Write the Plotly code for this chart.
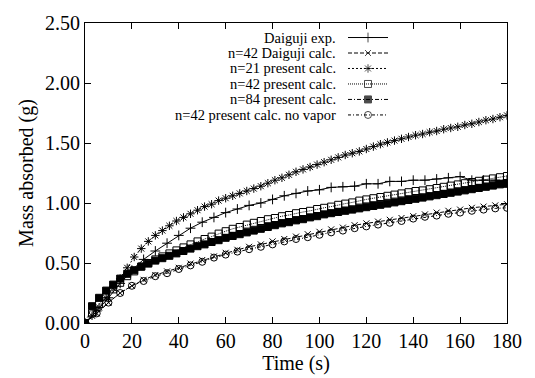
import plotly.graph_objects as go

# ---------------- data ----------------
t5 = list(range(0, 181, 5))
t3 = list(range(0, 181, 3))

daiguji_exp = [0, 0.10, 0.21, 0.33, 0.44, 0.53, 0.60, 0.665, 0.73, 0.79, 0.84, 0.88,
               0.92, 0.95, 0.98, 1.00, 1.03, 1.06, 1.08, 1.10, 1.11, 1.13, 1.135, 1.14,
               1.16, 1.16, 1.18, 1.18, 1.19, 1.19, 1.20, 1.21, 1.22, 1.19, 1.19, 1.19, 1.19]

daiguji_calc = [0, 0.08, 0.17, 0.25, 0.31, 0.36, 0.40, 0.43, 0.46, 0.495, 0.525, 0.555,
                0.585, 0.61, 0.635, 0.655, 0.68, 0.70, 0.72, 0.74, 0.76, 0.78, 0.795, 0.815,
                0.83, 0.845, 0.86, 0.875, 0.89, 0.905, 0.92, 0.935, 0.945, 0.96, 0.97, 0.98, 0.99]

no_vapor = [0, 0.08, 0.17, 0.25, 0.31, 0.35, 0.39, 0.415, 0.45, 0.48, 0.51, 0.545,
            0.57, 0.595, 0.615, 0.635, 0.655, 0.68, 0.70, 0.715, 0.735, 0.755, 0.77, 0.79,
            0.805, 0.82, 0.835, 0.85, 0.87, 0.885, 0.895, 0.91, 0.92, 0.935, 0.945, 0.955, 0.96]

n21 = [0, 0.06, 0.13, 0.21, 0.29, 0.37, 0.46, 0.55, 0.62, 0.68, 0.73, 0.77, 0.81, 0.85,
       0.88, 0.91, 0.94, 0.97, 0.99, 1.02, 1.04, 1.06, 1.08, 1.10, 1.12, 1.14, 1.165, 1.19,
       1.21, 1.235, 1.26, 1.28, 1.30, 1.32, 1.34, 1.36, 1.38, 1.40, 1.415, 1.43, 1.45, 1.47,
       1.49, 1.505, 1.52, 1.535, 1.55, 1.565, 1.575, 1.59, 1.60, 1.615, 1.625, 1.635, 1.65,
       1.66, 1.675, 1.69, 1.70, 1.715, 1.73]

n42 = [0, 0.08, 0.155, 0.22, 0.28, 0.335, 0.39, 0.43, 0.47, 0.50, 0.53, 0.555, 0.58, 0.605,
       0.63, 0.655, 0.68, 0.70, 0.72, 0.745, 0.765, 0.785, 0.80, 0.82, 0.835, 0.85, 0.865,
       0.875, 0.89, 0.90, 0.915, 0.925, 0.935, 0.95, 0.96, 0.97, 0.985, 0.995, 1.005, 1.02,
       1.03, 1.04, 1.05, 1.06, 1.07, 1.08, 1.09, 1.10, 1.105, 1.115, 1.125, 1.135, 1.145,
       1.155, 1.165, 1.175, 1.185, 1.195, 1.205, 1.215, 1.225]

n84 = [0, 0.14, 0.21, 0.27, 0.32, 0.37, 0.41, 0.44, 0.47, 0.495, 0.52, 0.54, 0.56, 0.58,
       0.60, 0.62, 0.64, 0.655, 0.675, 0.69, 0.71, 0.725, 0.74, 0.755, 0.77, 0.785, 0.80,
       0.815, 0.83, 0.84, 0.855, 0.865, 0.88, 0.89, 0.905, 0.915, 0.925, 0.935, 0.945, 0.955,
       0.965, 0.975, 0.985, 0.995, 1.005, 1.015, 1.025, 1.035, 1.045, 1.055, 1.065, 1.075,
       1.085, 1.095, 1.105, 1.115, 1.125, 1.135, 1.145, 1.155, 1.16]

labels = ["Daiguji exp.", "n=42 Daiguji calc.", "n=21 present calc.",
          "n=42 present calc.", "n=84 present calc.", "n=42 present calc. no vapor"]

x_ticks = list(range(0, 181, 20))
y_ticks = [0, 0.5, 1.0, 1.5, 2.0, 2.5]
y_ticktext = ["0.00", "0.50", "1.00", "1.50", "2.00", "2.50"]

FONT = "Liberation Serif"
BLACK = "black"
AXFONT = dict(family=FONT, size=20, color=BLACK)

styles = [
    dict(x=t5, y=daiguji_exp, dash="solid", symbol="cross-thin", size=7),
    dict(x=t5, y=daiguji_calc, dash="4px,2px", symbol="x-thin", size=6),
    dict(x=t3, y=n21, dash="2px,2px", symbol="asterisk-open", size=7),
    dict(x=t3, y=n42, dash="1px,1px", symbol="square-open", size=7),
    dict(x=t3, y=n84, dash="4px,2px,1px,2px", symbol="square", size=7),
    dict(x=t5, y=no_vapor, dash="3px,2px,1px,2px", symbol="circle-open", size=7),
]

fig = go.Figure()
for lab, st in zip(labels, styles):
    fig.add_trace(go.Scatter(
        x=st["x"], y=st["y"], name=lab, mode="lines+markers",
        line=dict(color=BLACK, width=1, dash=st["dash"]),
        marker=dict(symbol=st["symbol"], size=st["size"], color=BLACK,
                    line=dict(color=BLACK, width=1)),
        showlegend=False,
    ))

# custom legend (text on the left, sample on the right), drawn on a pixel overlay axis
row_y = [32, 48, 64, 80, 96, 112]
for lab, st, ry in zip(labels, styles, row_y):
    fig.add_trace(go.Scatter(
        x=[348, 368, 388], y=[ry, ry, ry], mode="lines+markers",
        xaxis="x2", yaxis="y2", showlegend=False, hoverinfo="skip",
        line=dict(color=BLACK, width=1, dash=st["dash"]),
        marker=dict(symbol=st["symbol"], size=[0, st["size"], 0], color=BLACK,
                    line=dict(color=BLACK, width=1)),
    ))
    fig.add_annotation(x=337, y=ry, xref="x2", yref="y2", text=lab, showarrow=False,
                       xanchor="right", yanchor="middle", borderpad=0,
                       font=dict(family=FONT, size=14.5, color=BLACK))

fig.update_layout(
    width=535, height=378,
    margin=dict(l=85, r=28, t=17, b=51),
    paper_bgcolor="white", plot_bgcolor="white",
    showlegend=False,
    font=dict(family=FONT, size=20, color=BLACK),
    xaxis2=dict(overlaying="x", range=[85, 507], visible=False, fixedrange=True),
    yaxis2=dict(overlaying="y", range=[327, 17], visible=False, fixedrange=True),
)
fig.layout.xaxis = go.layout.XAxis(
    range=[0, 180], tickmode="array", tickvals=x_ticks,
    showline=True, linecolor=BLACK, linewidth=1, mirror="ticks",
    ticks="inside", ticklen=6, tickcolor=BLACK, tickwidth=1,
    showgrid=False, zeroline=False, tickfont=AXFONT,
    title=go.layout.xaxis.Title(text="Time (s)", standoff=0, font=AXFONT),
)
fig.layout.yaxis = go.layout.YAxis(
    range=[0, 2.5], tickmode="array", tickvals=y_ticks, ticktext=y_ticktext,
    showline=True, linecolor=BLACK, linewidth=1, mirror="ticks",
    ticks="inside", ticklen=6, tickcolor=BLACK, tickwidth=1,
    showgrid=False, zeroline=False, tickfont=AXFONT,
    title=go.layout.yaxis.Title(text="Mass absorbed (g)", standoff=6, font=AXFONT),
)

fig.write_html("out.html")
